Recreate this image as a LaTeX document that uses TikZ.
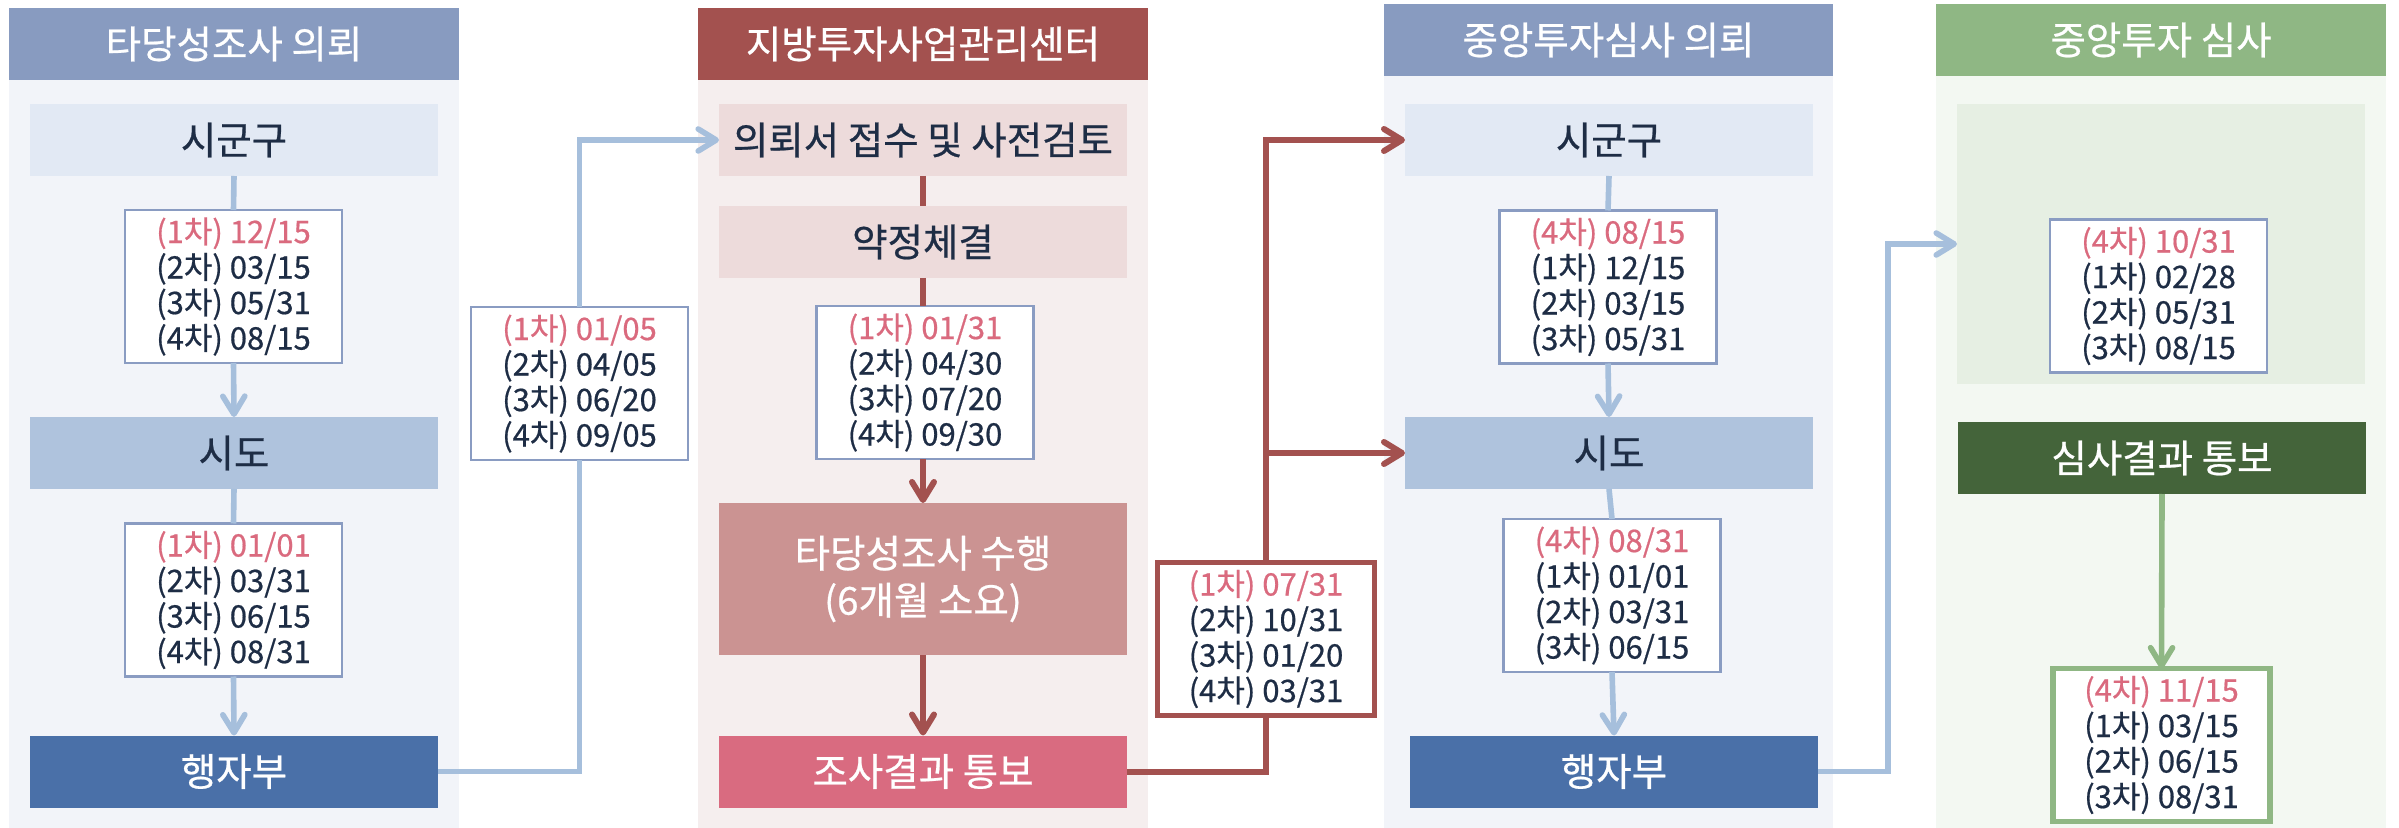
\documentclass[tikz,border=0pt]{standalone}
\usepackage{fontspec}
\setmainfont{Noto Sans CJK KR}[BoldFont={Noto Sans CJK KR},BoldFeatures={FakeBold=0.6}]
\usetikzlibrary{arrows.meta}
\definecolor{hdrblue}{HTML}{889BC0}
\definecolor{panelblue}{HTML}{F2F4F9}
\definecolor{sggc}{HTML}{E2E9F4}
\definecolor{sidoc}{HTML}{AFC3DD}
\definecolor{hjbc}{HTML}{4A70A8}
\definecolor{dateborder}{HTML}{8A9CC2}
\definecolor{txt}{HTML}{1E2D45}
\definecolor{hl}{HTML}{DA6A7E}
\definecolor{conblue}{HTML}{A6BFDC}
\definecolor{hdrred}{HTML}{A3514F}
\definecolor{panelred}{HTML}{F5EEEE}
\definecolor{boxred}{HTML}{EDDBDB}
\definecolor{studyc}{HTML}{CB9392}
\definecolor{resultc}{HTML}{D96B80}
\definecolor{hdrgreen}{HTML}{8FB784}
\definecolor{panelgreen}{HTML}{F3F8F2}
\definecolor{innergreen}{HTML}{E6EFE3}
\definecolor{darkgreen}{HTML}{44643A}
\begin{document}
\begin{tikzpicture}[x=0.5pt,y=-0.5pt,
  every node/.style={inner sep=0pt,outer sep=0pt},
  lbl/.style={font=\fontsize{19.25pt}{23.5pt}\selectfont\bfseries,align=center,text=txt},
  hdr/.style={lbl,text=white,minimum width=225pt,minimum height=36pt},
  wbox/.style={lbl,minimum width=204pt,minimum height=36pt},
  datebox/.style={fill=white,draw=dateborder,line width=1.4pt,minimum width=108.5pt,minimum height=76.5pt,align=center,text=txt,font=\fontsize{15.5pt}{17.75pt}\selectfont\bfseries},
  bcon/.style={draw=conblue,line width=2.8pt},
  rcon/.style={draw=hdrred,line width=3pt},
  gcon/.style={draw=hdrgreen,line width=2.8pt},
  tip/.style={-{Straight Barb[round,length=9pt,width=11pt]}}
]
\fill[white] (0,0) rectangle (2399,828);
\useasboundingbox (0,0) rectangle (2399,828);
% panel backgrounds
\fill[panelblue] (9,80) rectangle (459,828);
\fill[panelred] (698,80) rectangle (1148,828);
\fill[panelblue] (1384,76) rectangle (1833,828);
\fill[panelgreen] (1936,76) rectangle (2386,828);

% panel 1
\node[hdr,fill=hdrblue] (hdr1) at (234,44) {타당성조사 의뢰};
\node[wbox,fill=sggc] (sgg1) at (234,140) {시군구};
\node[datebox] (d1a) at (233.5,286.5) {{\color{hl}(1차) 12/15}\\(2차) 03/15\\(3차) 05/31\\(4차) 08/15};
\node[wbox,fill=sidoc] (sido1) at (234,453) {시도};
\node[datebox] (d1b) at (233.5,600) {{\color{hl}(1차) 01/01}\\(2차) 03/31\\(3차) 06/15\\(4차) 08/31};
\node[wbox,fill=hjbc,text=white] (hjb1) at (234,771.5) {행자부};
\draw[bcon] (sgg1.south) -- (d1a.north);
\draw[bcon,tip] (d1a.south) -- (sido1.north);
\draw[bcon] (sido1.south) -- (d1b.north);
\draw[bcon,tip] (d1b.south) -- (hjb1.north);

% link 1 -> 2
\node[datebox] (d15) at (579.5,383.5) {{\color{hl}(1차) 01/05}\\(2차) 04/05\\(3차) 06/20\\(4차) 09/05};

% panel 2
\node[hdr,fill=hdrred] (hdr2) at (923,44) {지방투자사업관리센터};
\node[wbox,fill=boxred] (req) at (923,140) {의뢰서 접수 및 사전검토};
\node[wbox,fill=boxred] (agr) at (923,242) {약정체결};
\node[datebox] (d2) at (925,382.5) {{\color{hl}(1차) 01/31}\\(2차) 04/30\\(3차) 07/20\\(4차) 09/30};
\node[wbox,fill=studyc,text=white,minimum height=76pt] (study) at (923,579) {타당성조사 수행\\(6개월 소요)};
\node[wbox,fill=resultc,text=white] (res) at (923,771.5) {조사결과 통보};
\draw[rcon] (req.south) -- (agr.north);
\draw[rcon] (agr.south) -- (agr.south |- d2.north);
\draw[rcon,tip] (d2.south -| agr.south) -- (study.north);
\draw[rcon,tip] (study.south) -- (res.north);

\draw[bcon] (hjb1.east) -| (d15.south);
\draw[bcon,tip] (d15.north) |- (req.west);

% link 2 -> 3
\node[datebox,draw=hdrred,line width=2.8pt] (rbox) at (1266,639) {{\color{hl}(1차) 07/31}\\(2차) 10/31\\(3차) 01/20\\(4차) 03/31};

% panel 3
\node[hdr,fill=hdrblue,minimum width=224.5pt] (hdr3) at (1608.5,40) {중앙투자심사 의뢰};
\node[wbox,fill=sggc] (sgg2) at (1609,140) {시군구};
\node[datebox] (d3a) at (1608,287) {{\color{hl}(4차) 08/15}\\(1차) 12/15\\(2차) 03/15\\(3차) 05/31};
\node[wbox,fill=sidoc] (sido2) at (1609,453) {시도};
\node[datebox] (d3b) at (1612,595.5) {{\color{hl}(4차) 08/31}\\(1차) 01/01\\(2차) 03/31\\(3차) 06/15};
\node[wbox,fill=hjbc,text=white] (hjb2) at (1614,771.5) {행자부};
\draw[bcon] (sgg2.south) -- (d3a.north);
\draw[bcon,tip] (d3a.south) -- (sido2.north);
\draw[bcon] (sido2.south) -- (d3b.north);
\draw[bcon,tip] (d3b.south) -- (hjb2.north);

\draw[rcon] (res.east) -| (rbox.south);
\draw[rcon,tip] (rbox.north) |- (sgg2.west);
\draw[rcon,tip] (rbox.north |- sido2.west) -- (sido2.west);

% panel 4
\node[hdr,fill=hdrgreen] (hdr4) at (2161,40) {중앙투자 심사};
\node[fill=innergreen,minimum width=204pt,minimum height=140pt] (inner) at (2161,244) {};
\node[datebox] (d4a) at (2158.5,296) {{\color{hl}(4차) 10/31}\\(1차) 02/28\\(2차) 05/31\\(3차) 08/15};
\node[wbox,fill=darkgreen,text=white] (sr) at (2162,458) {심사결과 통보};
\node[datebox,draw=hdrgreen,line width=2.8pt] (d4b) at (2161.5,745) {{\color{hl}(4차) 11/15}\\(1차) 03/15\\(2차) 06/15\\(3차) 08/31};
\draw[gcon,tip] (sr.south) -- (d4b.north);

\coordinate (bend2) at (1888,771.5);
\draw[bcon,tip] (hjb2.east) -- (bend2) |- (inner.west);
\end{tikzpicture}
\end{document}
